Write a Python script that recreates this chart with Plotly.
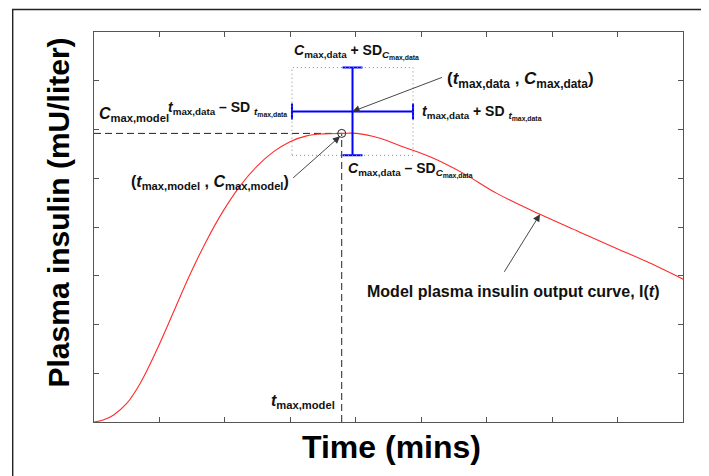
import plotly.graph_objects as go

# ---- data (arbitrary units) ----
time_min = [0, 2.8, 5.9, 10.0, 14.1, 19.2, 24.2, 29.3, 34.4, 39.5, 44.6, 49.7, 54.8,
            59.9, 65.0, 70.1, 75.7, 80.3, 87.4, 95.0, 102.7, 112.9, 123.1, 136.3,
            148.3, 159.7, 168.9, 180.0]
insulin = [0, 0.4, 1.4, 3.8, 7.9, 14.8, 22.4, 30.2, 37.2, 43.3, 48.4, 52.4, 55.4,
           57.5, 58.7, 59.1, 59.2, 59.2, 58.2, 56.3, 54.4, 51.0, 46.9, 42.6,
           39.0, 35.6, 32.9, 29.3]

t_max_model = 75.7
c_max_model = 59.2
t_max_data = 79.0
sd_t = 18.5
c_max_data = 63.7
sd_c = 9.0

x_range = [0, 180]
y_range = [0, 80]

FONT = "Liberation Sans, Arial, Helvetica, sans-serif"

fig = go.Figure()

# dashed guide lines to model maximum
fig.add_trace(go.Scatter(x=[x_range[0], t_max_model], y=[c_max_model, c_max_model],
                         mode="lines", line=dict(color="#222", width=1, dash="7px,4px"),
                         hoverinfo="skip", showlegend=False))
fig.add_trace(go.Scatter(x=[t_max_model, t_max_model], y=[y_range[0], c_max_model],
                         mode="lines", line=dict(color="#222", width=1, dash="7px,4px"),
                         hoverinfo="skip", showlegend=False))

# dotted SD box
fig.add_shape(type="rect", xref="x", yref="y",
              x0=t_max_data - sd_t, x1=t_max_data + sd_t,
              y0=c_max_data - sd_c, y1=c_max_data + sd_c,
              line=dict(color="#888", width=1, dash="1px,3px"))

# model curve
fig.add_trace(go.Scatter(x=time_min, y=insulin, mode="lines",
                         line=dict(color="#ff2a2a", width=1.1, shape="spline", smoothing=1.0),
                         showlegend=False))

# data mean +/- SD cross
fig.add_trace(go.Scatter(x=[t_max_data], y=[c_max_data], mode="markers",
                         marker=dict(size=1, color="rgba(0,0,255,0)"),
                         error_x=dict(type="data", array=[sd_t], color="#0000ff", thickness=2, width=8),
                         error_y=dict(type="data", array=[sd_c], color="#0000ff", thickness=2, width=10),
                         showlegend=False))

# model maximum marker
fig.add_trace(go.Scatter(x=[t_max_model], y=[c_max_model], mode="markers",
                         marker=dict(symbol="circle-open", size=8, color="#222", line=dict(width=1)),
                         showlegend=False))

ann = []
def txt(x, y, text, size, xanchor="left", yanchor="middle"):
    ann.append(dict(x=x, y=y, xref="x", yref="y", text=text, showarrow=False,
                    xanchor=xanchor, yanchor=yanchor,
                    font=dict(family=FONT, size=size, color="#111")))

def arrow(x, y, ax, ay):
    ann.append(dict(x=x, y=y, ax=ax, ay=ay, xref="x", yref="y", axref="x", ayref="y",
                    text="", showarrow=True, arrowhead=2, arrowsize=1.6, arrowwidth=0.9,
                    arrowcolor="#333", standoff=0, startstandoff=0))

txt(0.8, 63.0, "<b><i>C</i><sub>max,model</sub></b>", 16)
txt(59.6, 64.3, "<b><i>t</i><sub>max,data</sub> – SD <sub><i>t</i><sub>max,data</sub></sub></b>", 14, xanchor="right")
txt(60.5, 76.0, "<b><i>C</i><sub>max,data</sub> + SD<sub><i>C</i><sub>max,data</sub></sub></b>", 14)
txt(107.3, 70.2, "<b>(<i>t</i><sub>max,data</sub> , <i>C</i><sub>max,data</sub>)</b>", 17)
txt(99.6, 63.4, "<b><i>t</i><sub>max,data</sub> + SD <sub><i>t</i><sub>max,data</sub></sub></b>", 14)
txt(76.9, 51.7, "<b><i>C</i><sub>max,data</sub> – SD<sub><i>C</i><sub>max,data</sub></sub></b>", 14)
txt(10.7, 49.2, "<b>(<i>t</i><sub>max,model</sub> , <i>C</i><sub>max,model</sub>)</b>", 16)
txt(74.3, 4.3, "<b><i>t</i><sub>max,model</sub></b>", 16, xanchor="right")
txt(128.1, 26.7, "<b>Model plasma insulin output curve, I(<i>t</i>)</b>", 16, xanchor="center")

arrow(t_max_data, c_max_data, 106.8, 70.8)
arrow(75.2, 58.6, 60.4, 49.8)
arrow(136.3, 42.6, 125.1, 30.5)

# axis titles as annotations (paper coords)
ann.append(dict(x=(391.5 - 94) / 589, y=(422 - 447) / 390, xref="paper", yref="paper",
                text="<b>Time (mins)</b>", showarrow=False, xanchor="center", yanchor="middle",
                font=dict(family=FONT, size=32, color="#000")))
ann.append(dict(x=(57.5 - 94) / 589, y=(422 - 213) / 390, xref="paper", yref="paper",
                text="<b>Plasma insulin (mU/liter)</b>", showarrow=False, textangle=-90,
                xanchor="center", yanchor="middle",
                font=dict(family=FONT, size=30, color="#000")))

# outer frame
fig.add_shape(type="rect", xref="paper", yref="paper",
              x0=(12.7 - 94) / 589, x1=(707.3 - 94) / 589,
              y0=(422 - 490) / 390, y1=(422 - 9.5) / 390,
              line=dict(color="#222", width=1.4), layer="above")

axis_common = dict(showgrid=False, zeroline=False, showticklabels=False, ticks="inside",
                   ticklen=5, tickwidth=1, tickcolor="#555", showline=True, linecolor="#555",
                   linewidth=1.2, mirror="ticks")

# page body has an 8px margin, so the figure is 16px smaller and margins shifted
fig.update_layout(
    width=701, height=468,
    margin=dict(l=86, r=26, t=24, b=54),
    paper_bgcolor="white", plot_bgcolor="white",
    xaxis=dict(range=x_range, dtick=20, tick0=0, **axis_common),
    yaxis=dict(range=y_range, dtick=10, tick0=0, **axis_common),
    annotations=ann,
    showlegend=False,
)

fig.write_html("out.html")
